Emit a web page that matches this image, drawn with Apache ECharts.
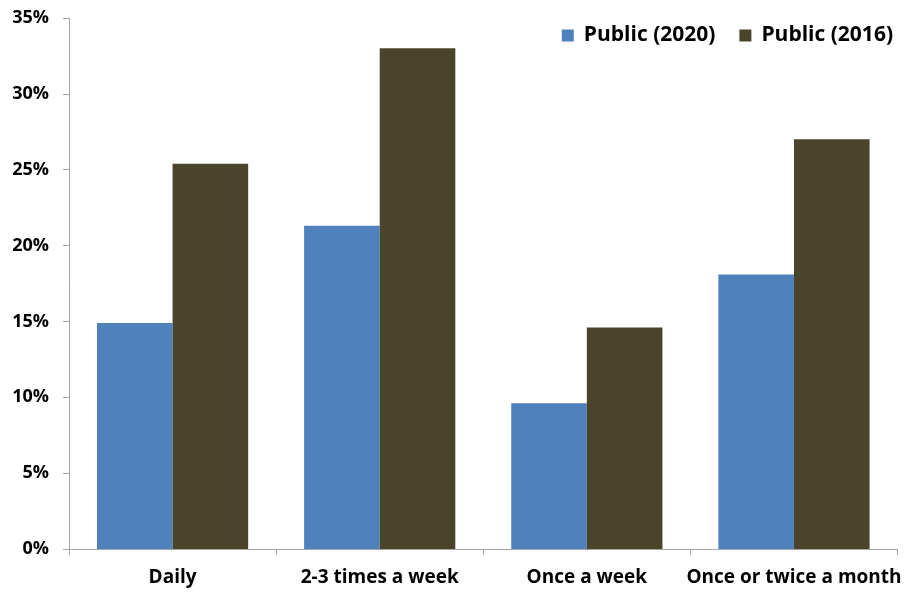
<!DOCTYPE html>
<html><head><meta charset="utf-8">
<script src="https://cdn.jsdelivr.net/npm/echarts@6/dist/echarts.min.js"></script>
<style>html,body{margin:0;padding:0;background:#fff}#c{width:904px;height:593px}</style>
</head><body><div id="c"></div>
<script>
const categories = ["Daily", "2-3 times a week", "Once a week", "Once or twice a month"];
const public2020 = [14.9, 21.3, 9.6, 18.1];
const public2016 = [25.4, 33.0, 14.6, 27.0];
const seriesNames = ["Public (2020)", "Public (2016)"];
const colors = ["#4F81BD", "#4A452A"];
const font = "Open Sans";
const chart = echarts.init(document.getElementById('c'));
chart.setOption({
  animation: false,
  color: colors,
  grid: {left: 69, right: 2, top: 18, bottom: 44, containLabel: false},
  legend: {
    top: 20, right: 6, itemWidth: 12, itemHeight: 12, itemGap: 24,
    icon: 'rect',
    textStyle: {fontFamily: font, fontWeight: 'bold', fontSize: 21, color: '#000', padding: [0, 0, 0, 5]},
    data: seriesNames
  },
  xAxis: {
    type: 'category', data: categories,
    axisLine: {lineStyle: {color: '#A6A6A6'}},
    axisTick: {show: true, interval: 0, length: 6, lineStyle: {color: '#A6A6A6'}},
    axisLabel: {interval: 0, fontFamily: font, fontWeight: 'bold', fontSize: 19, color: '#000', margin: 19}
  },
  yAxis: {
    type: 'value', min: 0, max: 35, interval: 5,
    axisLine: {show: true, lineStyle: {color: '#A6A6A6'}},
    axisTick: {show: true, length: 6, lineStyle: {color: '#A6A6A6'}},
    splitLine: {show: false},
    axisLabel: {fontFamily: font, fontWeight: 'bold', fontSize: 18, color: '#000', margin: 20,
      formatter: v => v + '%'}
  },
  series: [
    {name: seriesNames[0], type: 'bar', data: public2020, barGap: '0%', barCategoryGap: '27%'},
    {name: seriesNames[1], type: 'bar', data: public2016, barGap: '0%', barCategoryGap: '27%'}
  ]
});
</script></body></html>
